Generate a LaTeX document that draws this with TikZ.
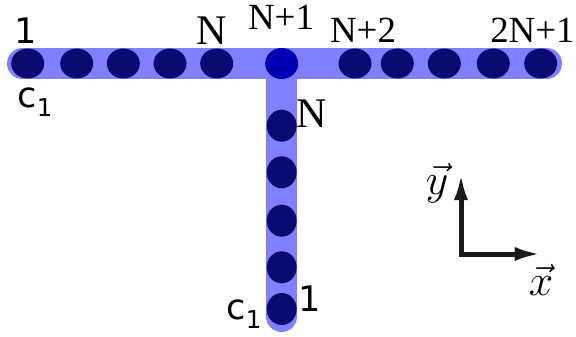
\documentclass[tikz,border=0pt]{standalone}
\usepackage{fontspec}
\setmainfont{DejaVu Sans}
\newfontfamily\serifN{Liberation Serif}
\usetikzlibrary{arrows.meta}
\definecolor{chainblue}{RGB}{128,128,255}
\definecolor{sitenavy}{RGB}{10,10,112}
\definecolor{sitejoint}{RGB}{0,0,180}
\definecolor{axisgray}{RGB}{26,26,26}
\newcommand{\cone}{c\raisebox{-0.45ex}{\fontsize{14}{14}\selectfont 1}}
\begin{document}
\begin{tikzpicture}[line cap=round,line join=round,every node/.style={font=\fontsize{20}{20}\selectfont,inner sep=0pt},nlabel/.style={font=\fontsize{24}{24}\selectfont\serifN},sumlabel/.style={font=\fontsize{21}{21}\selectfont\serifN},site/.style={fill=sitenavy}]
			\useasboundingbox (0,0) rectangle (11.52,6.72);
			\path
			(0.45,5.45) coordinate (L)
			(10.93,5.45) coordinate (R)
			(5.634,5.45) coordinate (J)
			(5.634,0.39) coordinate (B)
			(9.22,1.64) coordinate (O)
			(10.834,1.64) coordinate (X)
			(9.22,3.26) coordinate (Y);
			% the two chains
			\draw[chainblue,line width=0.62cm] (L) -- (R) (J) -- (B);
			\foreach \x in {0.554,1.534,2.466,3.4,4.334,7.1,7.946,8.886,9.866,10.814}
			\fill[site] (\x,5.45) ellipse (0.33 and 0.30);
			\foreach \y in {4.206,3.274,2.306,1.374,0.54}
			\fill[site] (5.634,\y) ellipse (0.30 and 0.32);
			\fill[sitejoint] (J) ellipse (0.33 and 0.31);
			% axes
			\draw[axisgray,line width=0.1cm,line join=miter,line cap=butt,{Latex[length=0.54cm,width=0.28cm]}-{Latex[length=0.54cm,width=0.28cm]}] (X) -- (O) -- (Y);
			\node (t1) at (0.52,6.1) {1};
			\node[nlabel] (tN) at (4.24,6.1) {N};
			\node[sumlabel] (tN1) at (5.62,6.38) {N+1};
			\node[sumlabel] (tN2) at (7.26,6.12) {N+2};
			\node[sumlabel,anchor=east] (t2N1) at (11.5,6.12) {2N+1};
			\node (hc) at (0.7,4.68) {\cone};
			\node[nlabel] (vN) at (6.24,4.44) {N};
			\node (v1) at (6.2,0.74) {1};
			\node (vc) at (4.88,0.44) {\cone};
			\node[font=\fontsize{24}{24}\selectfont] (ly) at (8.74,3.06) {$\vec{y}$};
			\node[font=\fontsize{24}{24}\selectfont] (lx) at (10.82,1.12) {$\vec{x}$};
		\end{tikzpicture}
\end{document}
